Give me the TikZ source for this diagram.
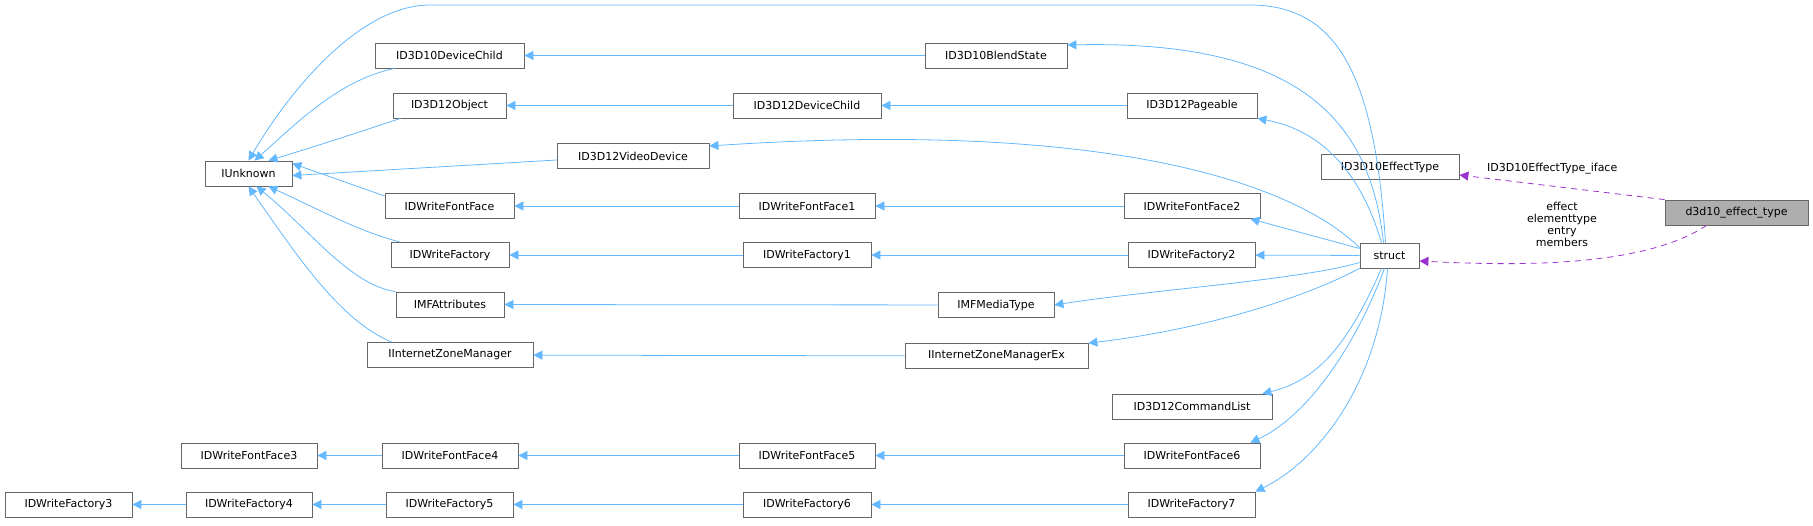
\documentclass[tikz,border=0pt]{standalone}
\usepackage{fontspec}
\setmainfont{DejaVu Sans}
\usetikzlibrary{arrows.meta}
\definecolor{eb}{HTML}{63B8FF}
\definecolor{ep}{HTML}{9A32CD}
\definecolor{bd}{HTML}{666666}
\begin{document}
\begin{tikzpicture}[x=1pt,y=-1pt,
  box/.style={draw=bd,fill=white,minimum height=25pt,inner sep=0pt,font=\fontsize{11}{12}\selectfont,line width=0.8pt},
  edge/.style={draw=eb,line width=0.8pt,-{Triangle[length=9pt,width=9pt]}},
  dep/.style={draw=ep,line width=0.8pt,dash pattern=on 6pt off 5pt,-{Triangle[length=9pt,width=9pt]}},
  lab/.style={font=\fontsize{11}{12}\selectfont,align=center,inner sep=0pt}]
\useasboundingbox (0,0) rectangle (1813,526);
\newcommand\bx[5]{\node[box,minimum width=#4pt-#3pt] (#1) at ({(#3+#4)/2},#5) {#2};}
\bx{iu}{IUnknown}{205}{292}{173.5}
\bx{dc10}{ID3D10DeviceChild}{375}{524}{55.5}
\bx{o12}{ID3D12Object}{393}{506}{105.5}
\bx{vd}{ID3D12VideoDevice}{557}{709}{156}
\bx{ff}{IDWriteFontFace}{385}{514}{206}
\bx{fa}{IDWriteFactory}{391}{509}{255}
\bx{mfa}{IMFAttributes}{396}{504}{304.5}
\bx{izm}{IInternetZoneManager}{367}{533}{355}
\bx{ff3}{IDWriteFontFace3}{181}{317}{455.5}
\bx{ff4}{IDWriteFontFace4}{382}{518}{455.5}
\bx{fa3}{IDWriteFactory3}{5}{132}{504.5}
\bx{fa4}{IDWriteFactory4}{186}{312}{504.5}
\bx{fa5}{IDWriteFactory5}{386}{513}{504.5}
\bx{bs}{ID3D10BlendState}{925}{1067}{55.5}
\bx{dc12}{ID3D12DeviceChild}{733}{881}{105.5}
\bx{pg}{ID3D12Pageable}{1127}{1257}{105.5}
\bx{ff1}{IDWriteFontFace1}{739}{875}{206}
\bx{ff2}{IDWriteFontFace2}{1124}{1260}{206}
\bx{fa1}{IDWriteFactory1}{743}{871}{255}
\bx{fa2}{IDWriteFactory2}{1128}{1255}{255}
\bx{mt}{IMFMediaType}{938}{1054}{305}
\bx{izx}{IInternetZoneManagerEx}{905}{1088}{356}
\bx{cl}{ID3D12CommandList}{1112}{1272}{406.5}
\bx{ff5}{IDWriteFontFace5}{739}{875}{455.5}
\bx{ff6}{IDWriteFontFace6}{1124}{1260}{455.5}
\bx{fa6}{IDWriteFactory6}{743}{871}{504.5}
\bx{fa7}{IDWriteFactory7}{1128}{1255}{504.5}
\bx{et}{ID3D10EffectType}{1321}{1459}{167}
\bx{st}{struct}{1360}{1419}{255.5}
\node[box,fill=gray!85!black!55,minimum width=143pt] (d3) at (1736.5,212.5) {d3d10\_effect\_type};
% IUnknown children
\draw[edge] (st.north) ++(-4,0) .. controls (1375,80) and (1340,5) .. (1250,5) -- (430,5) .. controls (360,5) and (290,90) .. (iu.north);
\draw[edge] (dc10.south west) ++(20,0) .. controls (340,80) and (300,120) .. ([xshift=6pt]iu.north);
\draw[edge] (o12.south west) ++(8,0) .. controls (350,135) and (320,145) .. ([xshift=20pt]iu.north);
\draw[edge] (vd.west) ++(0,4) -- ([yshift=-2pt]iu.east);
\draw[edge] (ff.west) ++(0,-10) -- ([yshift=10pt]iu.east);
\draw[edge] (fa.north west) ++(10,0) .. controls (360,232) and (320,210) .. ([xshift=20pt]iu.south);
\draw[edge] (mfa.north west) ++(0,0) .. controls (350,285) and (310,230) .. ([xshift=8pt]iu.south);
\draw[edge] (izm.north west) ++(25,0) .. controls (340,320) and (300,260) .. (iu.south);
% chains
\draw[edge] (bs) -- (dc10);
\draw[edge] (dc12) -- (o12);
\draw[edge] (pg) -- (dc12);
\draw[edge] (ff1) -- (ff);
\draw[edge] (ff2) -- (ff1);
\draw[edge] (fa1) -- (fa);
\draw[edge] (fa2) -- (fa1);
\draw[edge] (mt) -- (mfa);
\draw[edge] (izx) -- (izm);
\draw[edge] (ff4) -- (ff3);
\draw[edge] (ff5) -- (ff4);
\draw[edge] (ff6) -- (ff5);
\draw[edge] (fa4) -- (fa3);
\draw[edge] (fa5) -- (fa4);
\draw[edge] (fa6) -- (fa5);
\draw[edge] (fa7) -- (fa6);
% struct parents
\draw[edge] (st.north) ++(-6,0) .. controls (1370,120) and (1300,40) .. (bs.east |- 0,45);
\draw[edge] (st.north) ++(-8,0) .. controls (1360,170) and (1320,130) .. (pg.south east);
\draw[edge] (st.north west) ++(0,5) .. controls (1290,180) and (1100,120) .. (vd.east |- 0,146);
\draw[edge] (st.west) ++(0,-7) -- ([xshift=-10pt]ff2.south east);
\draw[edge] (st) -- (fa2);
\draw[edge] (st.west) ++(0,7) .. controls (1300,280) and (1150,290) .. (mt.east);
\draw[edge] (st.south west) ++(0,0) .. controls (1300,300) and (1200,330) .. (izx.north east);
\draw[edge] (st.south) ++(-8,0) .. controls (1350,340) and (1320,380) .. ([xshift=-10pt]cl.north east);
\draw[edge] (st.south) ++(-5,0) .. controls (1350,360) and (1300,420) .. ([xshift=-10pt]ff6.north east);
\draw[edge] (st.south) ++(-2,0) .. controls (1380,380) and (1320,460) .. (fa7.north east);
% dependencies
\draw[dep] (d3.north west) -- (et.east |- 0,175);
\draw[dep] (d3.south) ++(-30,0) .. controls (1640,270) and (1500,265) .. (st.east |- 0,261);
\node[lab,anchor=west] (l1) at (1487,169) {ID3D10EffectType\_iface};
\node[lab] (l2) at (1562,224) {effect\\elementtype\\entry\\members};
\end{tikzpicture}
\end{document}
